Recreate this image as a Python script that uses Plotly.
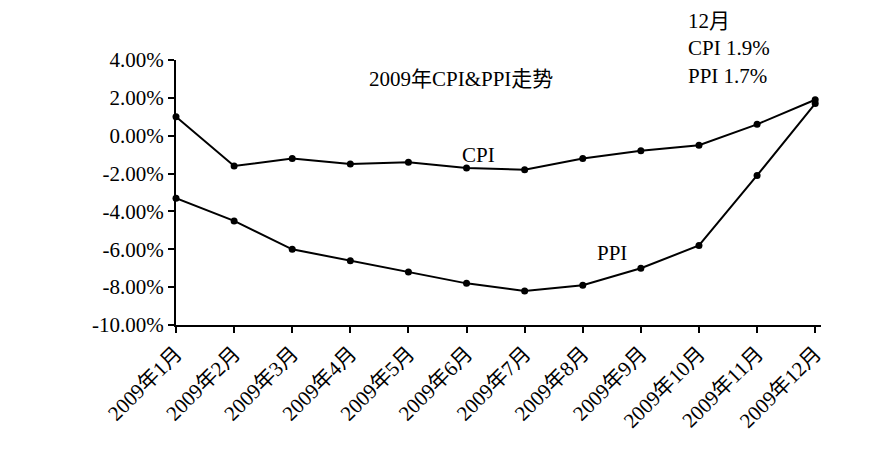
import plotly.graph_objects as go

months = [f"2009年{i}月" for i in range(1, 13)]
cpi = [1.0, -1.6, -1.2, -1.5, -1.4, -1.7, -1.8, -1.2, -0.8, -0.5, 0.6, 1.9]
ppi = [-3.3, -4.5, -6.0, -6.6, -7.2, -7.8, -8.2, -7.9, -7.0, -5.8, -2.1, 1.7]
yticks = [4, 2, 0, -2, -4, -6, -8, -10]

font = "Liberation Serif, Noto Sans CJK SC"
fig = go.Figure()
for s in (cpi, ppi):
    fig.add_trace(go.Scatter(x=list(range(12)), y=s, mode="lines+markers",
                             line=dict(color="black", width=2),
                             marker=dict(color="black", size=7), cliponaxis=False))
fig.update_layout(
    width=888, height=460, showlegend=False,
    paper_bgcolor="white", plot_bgcolor="white",
    margin=dict(l=168, r=75, t=52, b=143, autoexpand=False),
    font=dict(family=font, size=21, color="black"),
    xaxis=dict(range=[0, 11.1], tickmode="array", tickvals=list(range(12)), ticktext=months,
               tickangle=-45, showline=True, linecolor="black", linewidth=2, ticks="outside",
               ticklen=6, tickwidth=2, tickcolor="black", showgrid=False, zeroline=False,
               automargin=False),
    yaxis=dict(range=[-10, 4], tickmode="array", tickvals=yticks,
               ticktext=[f"{v:.2f}%" for v in yticks], showline=True, linecolor="black",
               linewidth=2, ticks="outside", ticklen=6, tickwidth=2, tickcolor="black",
               showgrid=False, zeroline=False, automargin=False),
)
def ann(x, y, t):
    fig.add_annotation(x=x, y=y, xref="x", yref="y", text=t, showarrow=False,
                       font=dict(size=21, family=font))
ann(4.9, 3.0, "2009年CPI&PPI走势")
ann(5.2, -1.0, "CPI")
ann(7.5, -6.2, "PPI")
fig.add_annotation(x=0.79, y=1.2, xref="paper", yref="paper", text="12月<br>CPI 1.9%<br>PPI 1.7%",
                   showarrow=False, align="left", xanchor="left", yanchor="top",
                   font=dict(size=21, family=font))
fig.write_html("out.html")
